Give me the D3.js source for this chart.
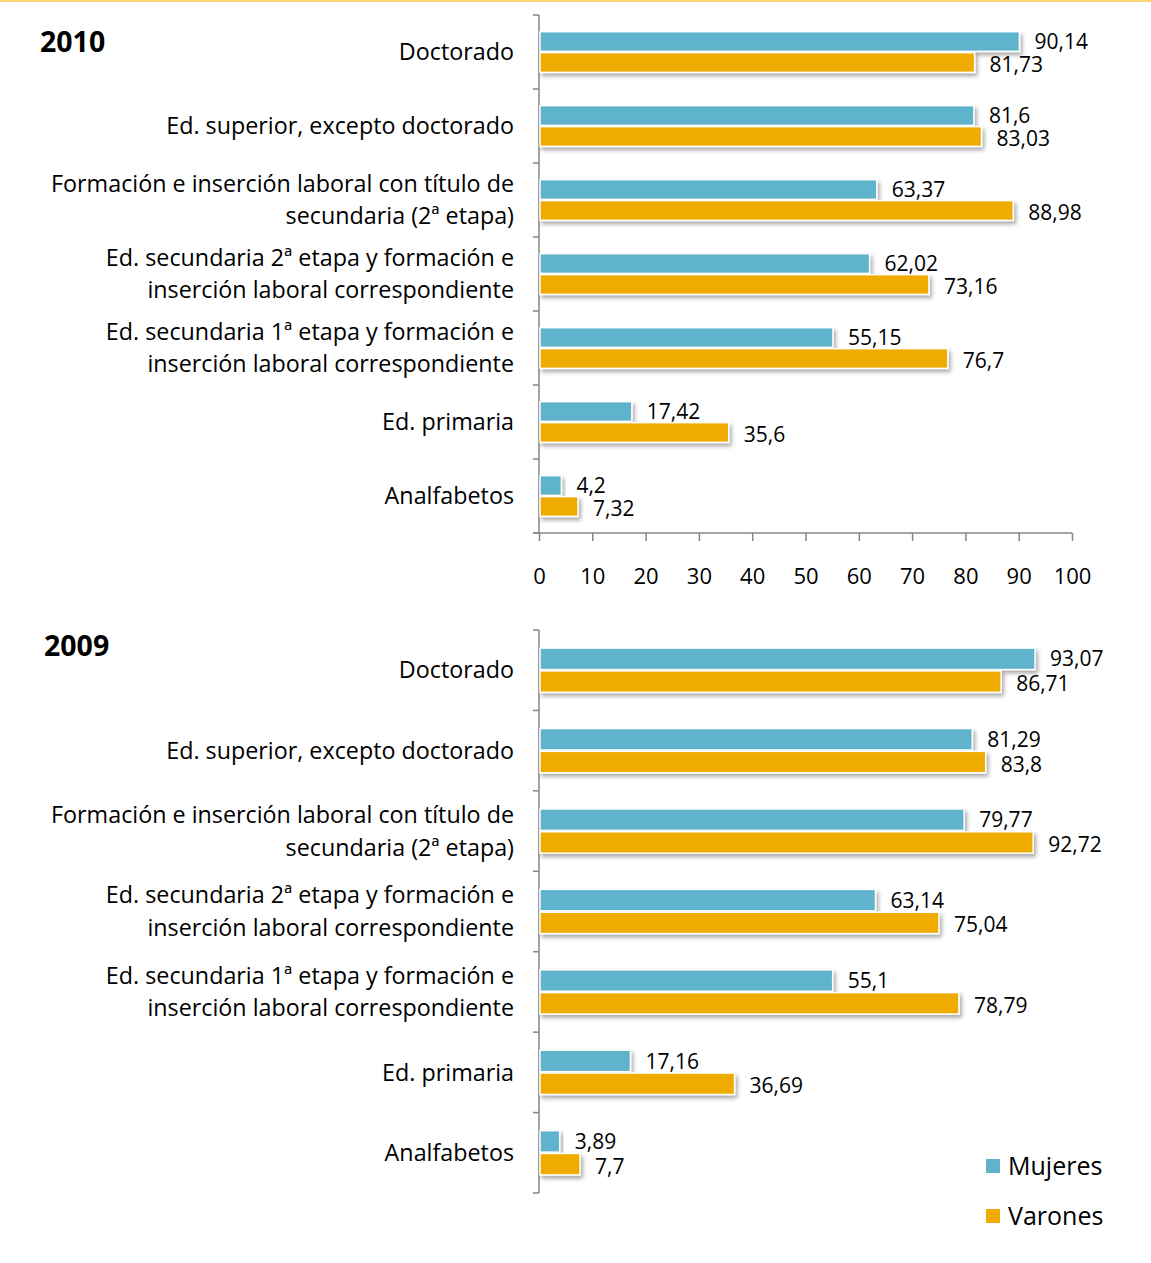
<!DOCTYPE html>
<html>
<head>
<meta charset="utf-8">
<script src="https://cdn.jsdelivr.net/npm/d3@7"></script>
<style>
  body { margin: 0; background: #fff; }
  svg { display: block; font-family: "Open Sans", sans-serif; }
</style>
</head>
<body>
<svg id="chart" width="1151" height="1263"></svg>
<script>
// categories (top to bottom)
var categories = [
  ['Doctorado'],
  ['Ed. superior, excepto doctorado'],
  ['Formación e inserción laboral con título de', 'secundaria (2ª etapa)'],
  ['Ed. secundaria 2ª etapa y formación e', 'inserción laboral correspondiente'],
  ['Ed. secundaria 1ª etapa y formación e', 'inserción laboral correspondiente'],
  ['Ed. primaria'],
  ['Analfabetos']
];
var seriesNames = ['Mujeres', 'Varones'];
var colors = ['#61b3cc', '#f0ab00'];

var mujeres2010 = [90.14, 81.6, 63.37, 62.02, 55.15, 17.42, 4.2];
var varones2010 = [81.73, 83.03, 88.98, 73.16, 76.7, 35.6, 7.32];
var mujeres2009 = [93.07, 81.29, 79.77, 63.14, 55.1, 17.16, 3.89];
var varones2009 = [86.71, 83.8, 92.72, 75.04, 78.79, 36.69, 7.7];

var xTicks = [0, 10, 20, 30, 40, 50, 60, 70, 80, 90, 100];

var svg = d3.select('#chart');

// faint top border
svg.append('rect').attr('x', 0).attr('y', 0).attr('width', 1151).attr('height', 2).attr('fill', '#fdd872');

var defs = svg.append('defs');
defs.append('filter').attr('id', 'shadow').attr('x', '-10%').attr('y', '-30%').attr('width', '130%').attr('height', '190%')
  .append('feDropShadow').attr('dx', 2).attr('dy', 3).attr('stdDeviation', 2)
  .attr('flood-color', '#000').attr('flood-opacity', 0.35);

var x = d3.scaleLinear().domain([0, 100]).range([539, 1072]);

function fmt(v) {
  return String(v).replace('.', ',');
}

function drawPanel(year, mujeres, varones, top, bottom, titleX, titleY, showXAxis) {
  var g = svg.append('g');
  var idx = d3.range(categories.length);

  var y = d3.scaleBand().domain(idx).range([top, bottom]).paddingInner(0.45).paddingOuter(0.225);
  var ySub = d3.scaleBand().domain([0, 1]).range([0, y.bandwidth()]).paddingInner(0.06);

  g.append('text').attr('x', titleX).attr('y', titleY)
    .attr('font-size', 28.5).attr('font-weight', 'bold').attr('fill', '#000')
    .text(year);

  var step = (bottom - top) / categories.length;

  // y axis line + ticks at band boundaries
  g.append('line').attr('x1', x(0)).attr('x2', x(0)).attr('y1', top).attr('y2', bottom)
    .attr('stroke', '#868686').attr('stroke-width', 1.5);
  g.selectAll('.ytick').data(d3.range(categories.length + 1)).enter().append('line')
    .attr('x1', x(0) - 6).attr('x2', x(0))
    .attr('y1', function (d) { return top + d * step; })
    .attr('y2', function (d) { return top + d * step; })
    .attr('stroke', '#868686').attr('stroke-width', 1.5);

  // category labels
  var labels = g.selectAll('.cat').data(categories).enter().append('text')
    .attr('text-anchor', 'end').attr('font-size', 23.3).attr('fill', '#000')
    .attr('x', 514)
    .attr('y', function (d, i) { return y(i) + y.bandwidth() / 2; });
  labels.selectAll('tspan').data(function (d) { return d; }).enter().append('tspan')
    .attr('x', 514)
    .attr('dy', function (d, j, nodes) {
      var n = nodes.length;
      if (j === 0) return (0.35 - (n - 1) * 0.7) + 'em';
      return '1.4em';
    })
    .text(function (d) { return d; });

  var data = [mujeres, varones];
  data.forEach(function (vals, s) {
    g.selectAll('.bar' + s).data(vals).enter().append('rect')
      .attr('x', x(0) + 1)
      .attr('y', function (d, i) { return y(i) + ySub(s); })
      .attr('width', function (d) { return x(d) - x(0) - 1; })
      .attr('height', ySub.bandwidth())
      .attr('fill', colors[s])
      .attr('stroke', '#fff').attr('stroke-width', 1.5)
      .attr('filter', 'url(#shadow)');

    g.selectAll('.val' + s).data(vals).enter().append('text')
      .attr('x', function (d) { return x(d) + 15; })
      .attr('y', function (d, i) { return y(i) + ySub(s) + ySub.bandwidth() / 2 + (s === 0 ? 0 : 2); })
      .attr('dy', '0.36em')
      .attr('font-size', 21).attr('fill', '#000')
      .text(fmt);
  });

  if (showXAxis) {
    var axis = g.append('g').attr('transform', 'translate(0,' + bottom + ')')
      .call(d3.axisBottom(x).tickValues(xTicks).tickSize(8).tickPadding(27).tickSizeOuter(0));
    axis.select('.domain').attr('stroke', '#868686').attr('stroke-width', 1.5)
      .attr('d', 'M' + (x(0) - 6) + ',0H' + x(100));
    axis.selectAll('.tick line').attr('stroke', '#868686').attr('stroke-width', 1.5);
    axis.selectAll('.tick text').attr('font-size', 22).attr('fill', '#000')
      .attr('font-family', '"Open Sans", sans-serif');
  }
}

drawPanel('2010', mujeres2010, varones2010, 15, 533, 40, 52, true);
drawPanel('2009', mujeres2009, varones2009, 630, 1193, 44, 656, false);

// legend
var legend = svg.append('g');
seriesNames.forEach(function (name, i) {
  var ly = 1166 + i * 50;
  legend.append('rect').attr('x', 986).attr('y', ly - 7).attr('width', 14).attr('height', 14).attr('fill', colors[i]);
  legend.append('text').attr('x', 1008).attr('y', ly).attr('dy', '0.36em')
    .attr('font-size', 25).attr('fill', '#000').text(name);
});
</script>
</body>
</html>
